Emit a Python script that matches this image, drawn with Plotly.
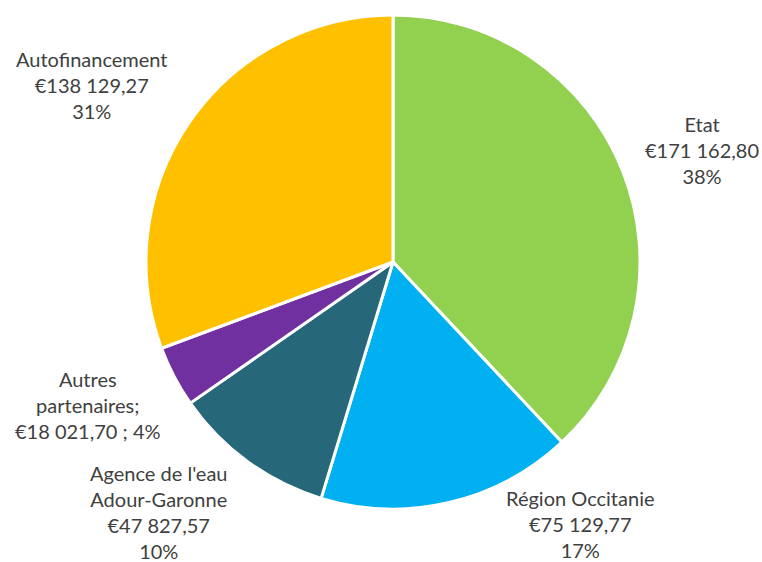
import plotly.graph_objects as go

labels = ["Etat", "Région Occitanie", "Agence de l'eau Adour-Garonne", "Autres partenaires", "Autofinancement"]
values = [171162.80, 75129.77, 47827.57, 18021.70, 138129.27]
label_texts = [
    "Etat<br>€171 162,80<br>38%",
    "Région Occitanie<br>€75 129,77<br>17%",
    "Agence de l'eau<br>Adour-Garonne<br>€47 827,57<br>10%",
    "Autres<br>partenaires;<br>€18 021,70 ; 4%",
    "Autofinancement<br>€138 129,27<br>31%",
]
colors = ["#92D050", "#00B0F0", "#26687A", "#7030A0", "#FFC000"]

W, H = 762, 562
cx, cy, r = 393, 262, 247

fig = go.Figure(go.Pie(
    labels=labels, values=values, sort=False, direction="clockwise", rotation=0,
    marker=dict(colors=colors, line=dict(color="white", width=3)),
    textinfo="none", hoverinfo="label+value+percent",
    domain=dict(x=[(cx - r) / W, (cx + r) / W], y=[(H - cy - r) / H, (H - cy + r) / H]),
    showlegend=False,
))

# label block centres (pixels in reference)
pos = [(702, 150), (580, 524), (158, 512), (88, 405), (92, 85)]
for t, (x, y) in zip(label_texts, pos):
    fig.add_annotation(x=x / W, y=1 - y / H, xref="paper", yref="paper", text=t,
                       showarrow=False, align="center", xanchor="center", yanchor="middle",
                       font=dict(family="Lato", size=20, color="#404040"))

fig.update_layout(width=W, height=H, margin=dict(l=0, r=0, t=0, b=0),
                  paper_bgcolor="white", plot_bgcolor="white")
fig.write_html("out.html", config={"displayModeBar": False},
               post_script="document.body.style.margin='0';document.body.style.overflow='hidden';")
